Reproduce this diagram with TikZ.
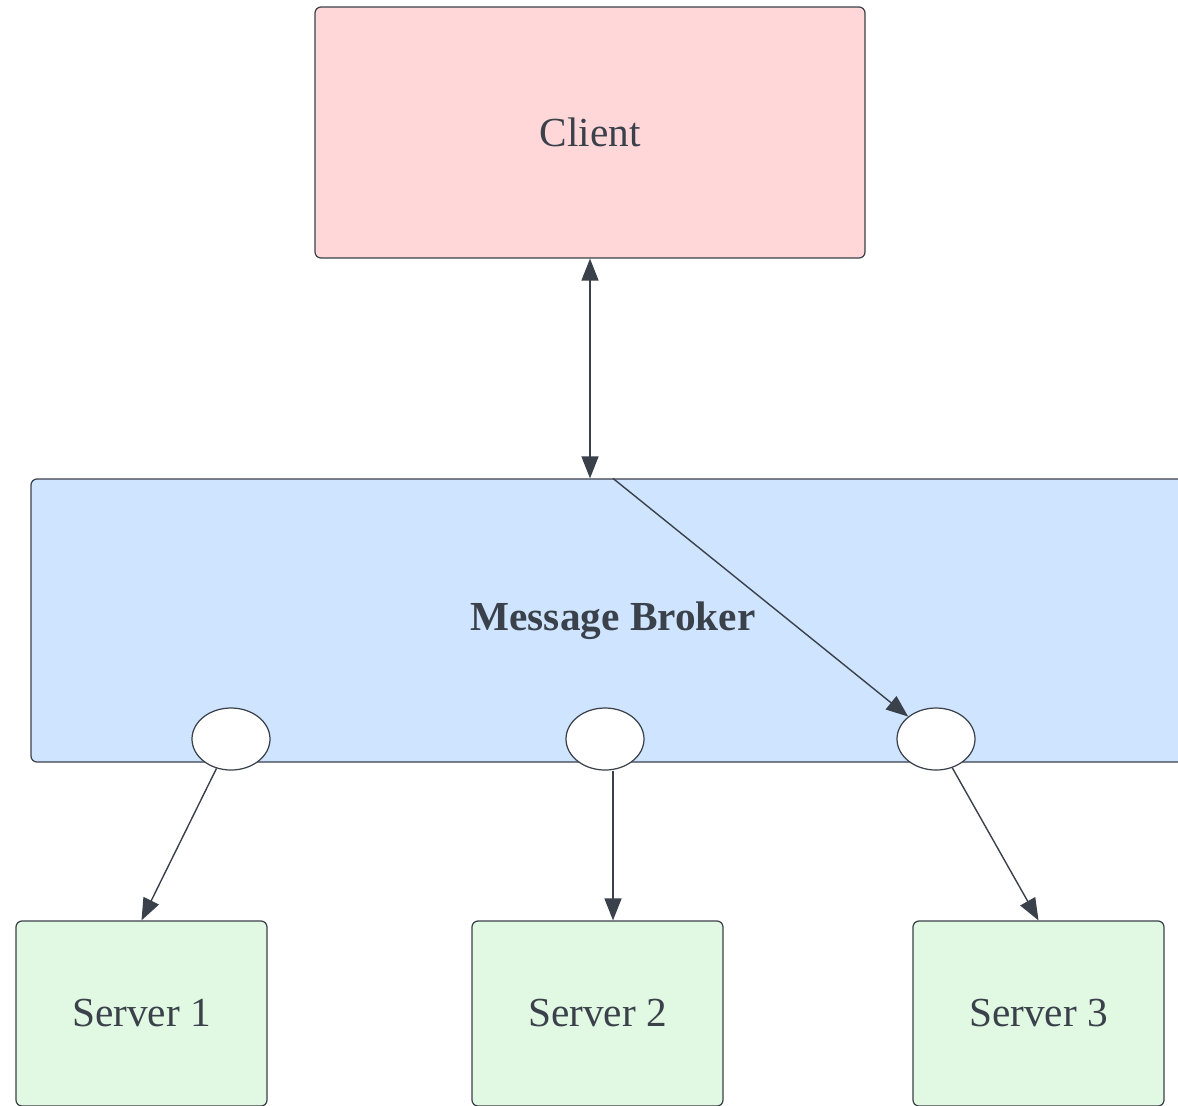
\documentclass[tikz,border=0pt]{standalone}
\usepackage{fontspec}
\setmainfont{Liberation Serif}
\usetikzlibrary{shapes.geometric, arrows.meta, positioning, calc}
\definecolor{inkgray}{HTML}{3A414A}
\definecolor{clientpink}{HTML}{FFD7D9}
\definecolor{brokerblue}{HTML}{CFE4FF}
\definecolor{servergreen}{HTML}{E1F9E3}
\tikzstyle{clientbox} = [rectangle, rounded corners=0.12cm, minimum width=11cm, minimum height=5.02cm,
                          text centered, draw=inkgray, fill=clientpink, line width=0.7pt]
\tikzstyle{brokerbox} = [rectangle, rounded corners=0.12cm, minimum width=23.28cm, minimum height=5.66cm,
                          text centered, draw=inkgray, fill=brokerblue, line width=0.7pt,
                          font=\fontsize{23.5}{28}\selectfont\bfseries]
\tikzstyle{serverbox} = [rectangle, rounded corners=0.12cm, minimum width=5.02cm, minimum height=3.7cm,
                          text centered, draw=inkgray, fill=servergreen, line width=0.7pt]
\tikzstyle{port}      = [ellipse, minimum width=1.56cm, minimum height=1.24cm, draw=inkgray, fill=white,
                          line width=0.7pt, inner sep=0pt]
\tikzstyle{arrow}     = [draw=inkgray, line width=0.8pt, -{Triangle[length=0.44cm, width=0.34cm]}]

\begin{document}
\begin{tikzpicture}[every node/.style={font=\fontsize{23.5}{28}\selectfont, text=inkgray}]

  \clip (0,0) rectangle (23.56,-22.1);

  % Client
  \node (client) [clientbox] at (11.8, -2.65) {Client};

  % Broker and its queues
  \node (broker) [brokerbox] at (12.26, -12.41) {Message Broker};
  \node (e1) [port] at (4.62,  -14.78) {};
  \node (e2) [port] at (12.1,  -14.78) {};
  \node (e3) [port] at (18.72, -14.78) {};

  % Servers
  \node (s1) [serverbox] at (2.83,  -20.27) {Server 1};
  \node (s2) [serverbox] at (11.95, -20.27) {Server 2};
  \node (s3) [serverbox] at (20.77, -20.27) {Server 3};

  % Client <-> Broker
  \draw[arrow, {Triangle[length=0.44cm, width=0.34cm]}-{Triangle[length=0.44cm, width=0.34cm]}]
    (client.south) -- (client.south |- broker.north);
  % Broker -> queue 3
  \draw[arrow] (broker.north) -- (e3);
  % queues -> servers
  \draw[arrow] (e1) -- (s1.north);
  \draw[arrow] ([xshift=0.16cm]e2.south) -- ([xshift=0.16cm]e2.south |- s2.north);
  \draw[arrow] (e3) -- (s3.north);

\end{tikzpicture}
\end{document}
